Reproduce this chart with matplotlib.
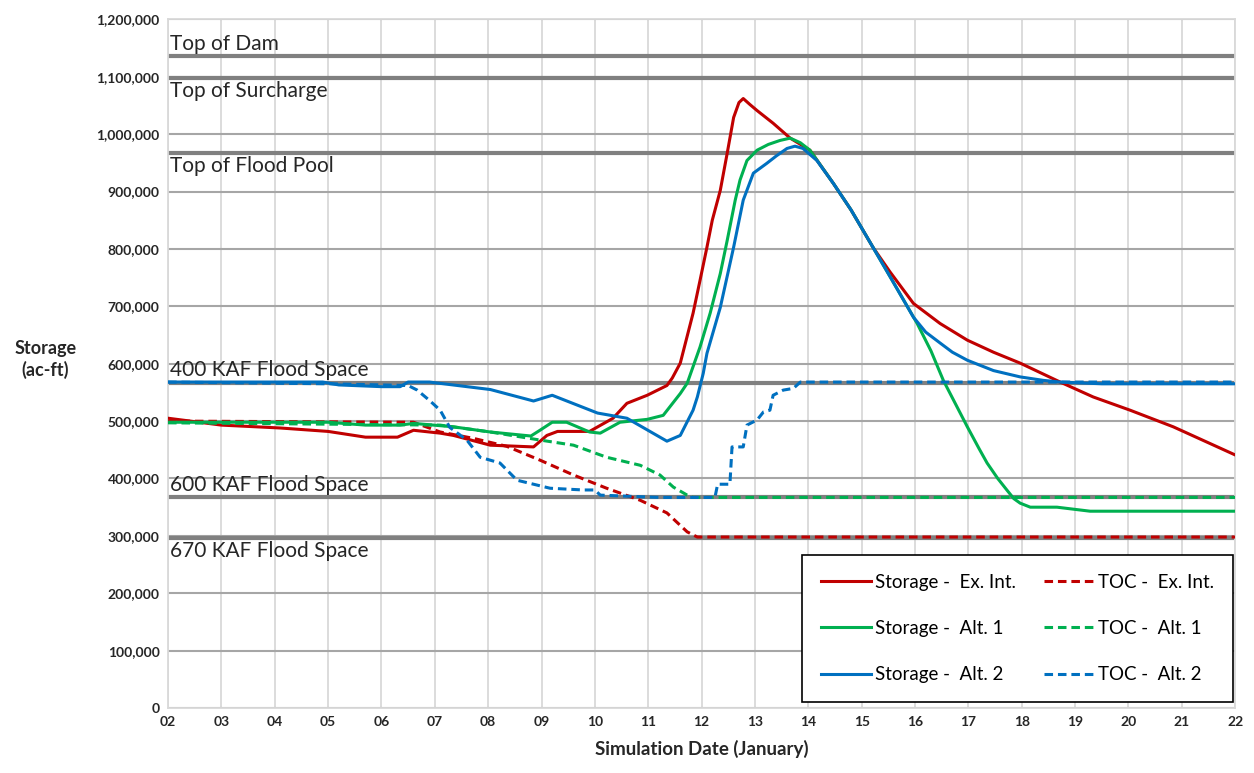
#!/usr/bin/env python3
"""Reservoir storage vs. top of conservation for three operating alternatives."""

import matplotlib
matplotlib.use("Agg")
import matplotlib.pyplot as plt
import matplotlib.ticker as ticker

plt.rcParams["font.family"] = ["Lato", "DejaVu Sans"]

RED = "#C00000"
GREEN = "#00B050"
BLUE = "#0070C0"
REF_GRAY = "#808080"

# Storage (ac-ft / 1000) vs simulation day in January
ex_x = [2.0, 3.0, 4.1, 5.0, 5.7, 6.3, 6.6, 7.1, 7.35, 8.04, 8.85, 9.1, 9.3, 9.9,
        10.34, 10.6, 10.98, 11.35, 11.45, 11.6, 11.84, 11.97, 12.1, 12.2, 12.35,
        12.48, 12.6, 12.7, 12.78, 12.9, 13.04, 13.34, 13.66, 14.03, 14.47, 14.8,
        15.21, 15.53, 15.97, 16.47, 16.98, 17.47, 17.97, 18.72, 19.34, 20.03,
        20.84, 22.0]
ex_s = [505, 493, 488, 482, 472, 472, 484, 479, 475, 458, 455, 475, 482, 482,
        505, 531, 545, 562, 575, 601, 688, 745, 803, 850, 902,
        967, 1029, 1055, 1062, 1052, 1041, 1019, 993, 972, 914, 868,
        803, 760, 705, 670, 641, 620, 601, 568, 542, 519,
        490, 441]

a1_x = [2.0, 5.0, 5.7, 6.35, 6.6, 7.35, 8.04, 8.8, 8.97, 9.2, 9.47, 9.9, 10.1,
        10.47, 10.98, 11.28, 11.6, 11.73, 11.97, 12.16, 12.35, 12.48, 12.63,
        12.72, 12.85, 13.04, 13.25, 13.47, 13.66, 13.85, 14.03, 14.47, 14.8,
        15.21, 15.53, 16.04, 16.3, 16.53, 16.98, 17.2, 17.35, 17.55, 17.72,
        17.85, 17.97, 18.16, 18.66, 19.28, 22.0]
a1_s = [498, 498, 493, 493, 496, 490, 481, 474, 484, 498, 498, 481, 479,
        498, 503, 510, 548, 566, 629, 688, 757, 815, 885,
        920, 954, 972, 982, 989, 993, 985, 972, 914, 868,
        803, 752, 670, 622, 571, 490, 452, 427, 400, 380,
        365, 357, 350, 350, 343, 343]

a2_x = [2.0, 4.9, 5.2, 6.0, 6.35, 6.5, 6.9, 8.04, 8.85, 9.2, 10.05, 10.6, 11.35,
        11.6, 11.84, 11.92, 12.03, 12.1, 12.35, 12.6, 12.78, 12.97, 13.22, 13.4,
        13.6, 13.75, 13.9, 14.16, 14.47, 14.8, 15.21, 15.53, 15.97, 16.2, 16.47,
        16.7, 16.98, 17.47, 17.97, 18.4, 18.72, 19.5, 22.0]
a2_s = [568, 568, 563, 560, 560, 568, 568, 555, 535, 545, 514, 505, 465,
        475, 519, 542, 583, 618, 698, 803, 885, 932, 949, 962,
        975, 979, 975, 954, 914, 868, 803, 752, 681, 655, 636,
        620, 606, 588, 577, 571, 568, 565, 565]

# Top of conservation (ac-ft / 1000)
toc_ex_x = [2.0, 6.6, 7.1, 7.72, 8.35, 8.97, 9.6, 10.22, 10.85, 11.35, 11.73, 11.92, 22.0]
toc_ex_s = [500, 498, 481, 470, 456, 432, 406, 383, 362, 340, 307, 298, 298]

toc_a1_x = [2.0, 7.1, 8.04, 8.97, 9.6, 10.22, 10.85, 11.22, 11.47, 11.73, 11.84, 22.0]
toc_a1_s = [497, 493, 481, 467, 458, 437, 423, 406, 385, 371, 367, 367]

toc_a2_x = [2.0, 5.0, 6.5, 6.67, 6.9, 7.1, 7.28, 7.6, 7.85, 8.22, 8.54, 9.16, 9.78,
            10.0, 10.1, 11.2, 12.25, 12.3, 12.53, 12.57, 12.78, 12.85, 13.04, 13.16,
            13.28, 13.34, 13.53, 13.72, 13.85, 22.0]
toc_a2_s = [568, 565, 562, 554, 536, 519, 489, 467, 437, 427, 397, 383, 380,
            380, 371, 367, 367, 390, 390, 455, 455, 493, 502, 516,
            519, 545, 554, 557, 568, 568]

# Reference levels (ac-ft)
ref_names = ["Top of Dam", "Top of Surcharge", "Top of Flood Pool",
             "400 KAF Flood Space", "600 KAF Flood Space", "670 KAF Flood Space"]
ref_levels = [1136000, 1098000, 967000, 567000, 367000, 297000]
ref_above = [True, False, False, True, True, False]


def k(vals):
    return [v * 1000 for v in vals]


fig = plt.figure(figsize=(12.54, 7.73), dpi=100)
ax = fig.add_axes([0.134, 0.084, 0.851, 0.891])

ax.set_xlim(2, 22)
ax.set_ylim(0, 1200000)
ax.xaxis.set_major_locator(ticker.MultipleLocator(1))
ax.yaxis.set_major_locator(ticker.MultipleLocator(100000))
ax.xaxis.set_major_formatter(ticker.FuncFormatter(lambda v, p: f"{int(v):02d}"))
ax.yaxis.set_major_formatter(ticker.FuncFormatter(lambda v, p: f"{int(v):,}"))

ax.grid(axis="x", color="#d9d9d9", lw=1.3)
ax.grid(axis="y", color="#a6a6a6", lw=1.5)
ax.set_axisbelow(True)
for sp in ax.spines.values():
    sp.set_color("#d9d9d9")
    sp.set_linewidth(1.3)
ax.tick_params(length=0, labelsize=10, pad=6)
for lab in ax.get_xticklabels() + ax.get_yticklabels():
    lab.set_fontweight("bold")
    lab.set_color("#262626")

for name, lev, above in zip(ref_names, ref_levels, ref_above):
    ax.axhline(lev, color=REF_GRAY, lw=3, zorder=1.5)
    if above:
        ax.text(2.03, lev + 4000, name, fontsize=15, va="bottom", ha="left", color="#262626")
    else:
        ax.text(2.03, lev - 6000, name, fontsize=15, va="top", ha="left", color="#262626")

lw = 2.2
dash = (2.8, 1.6)
h_ex, = ax.plot(ex_x, k(ex_s), color=RED, lw=lw, label="Storage -  Ex. Int.", zorder=3)
h_tex, = ax.plot(toc_ex_x, k(toc_ex_s), color=RED, lw=lw, ls=(0, dash), label="TOC -  Ex. Int.", zorder=3)
h_a1, = ax.plot(a1_x, k(a1_s), color=GREEN, lw=lw, label="Storage -  Alt. 1", zorder=3)
h_ta1, = ax.plot(toc_a1_x, k(toc_a1_s), color=GREEN, lw=lw, ls=(0, dash), label="TOC -  Alt. 1", zorder=3)
h_a2, = ax.plot(a2_x, k(a2_s), color=BLUE, lw=lw, label="Storage -  Alt. 2", zorder=3)
h_ta2, = ax.plot(toc_a2_x, k(toc_a2_s), color=BLUE, lw=lw, ls=(0, dash), label="TOC -  Alt. 2", zorder=3)

leg = ax.legend(handles=[h_ex, h_a1, h_a2, h_tex, h_ta1, h_ta2], ncol=2,
                loc="lower right", bbox_to_anchor=(0.998, 0.009),
                fontsize=13.5, frameon=True, fancybox=False, framealpha=1,
                edgecolor="black", labelspacing=1.55, handlelength=2.7,
                handletextpad=0.2, columnspacing=1.5, borderpad=1.0,
                borderaxespad=0)
leg.get_frame().set_linewidth(1.2)
leg.set_zorder(5)

ax.set_xlabel("Simulation Date (January)", fontsize=13.5, fontweight="bold",
              color="#262626", labelpad=8)
fig.text(0.036, 0.535, "Storage\n(ac-ft)", fontsize=13, fontweight="bold",
         ha="center", va="center", color="#262626", linespacing=1.3)

fig.savefig("out.png", dpi=100)
